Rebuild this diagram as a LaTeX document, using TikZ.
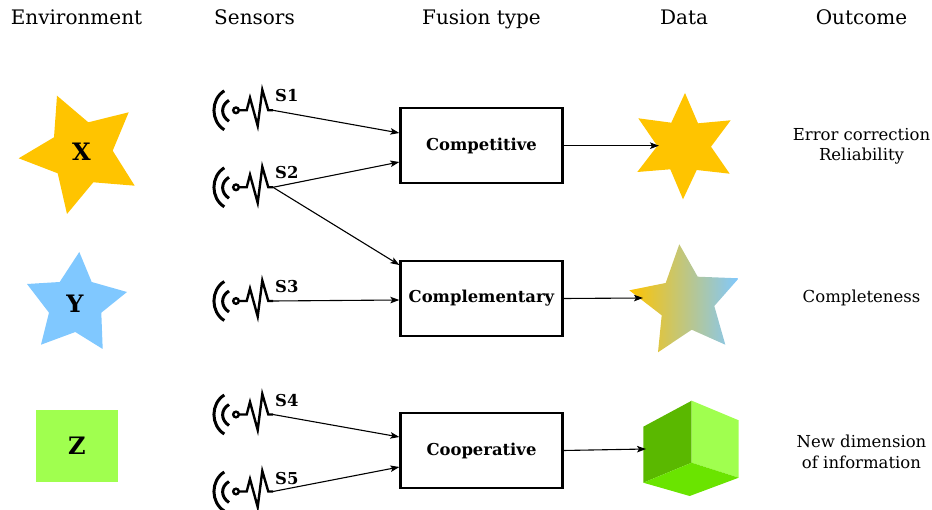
\documentclass[tikz,border=0pt]{standalone}
\usepackage{fontspec}
\setmainfont{DejaVu Serif}
\usetikzlibrary{arrows.meta}
\definecolor{amber}{HTML}{FFC400}
\definecolor{skyb}{HTML}{80C8FF}
\definecolor{limea}{HTML}{A0FF4F}
\definecolor{limeb}{HTML}{5AB800}
\definecolor{limec}{HTML}{6AE400}
\tikzset{
  x=1pt,y=-1pt,
  head/.style={font=\fontsize{20}{24}\selectfont,anchor=base},
  note/.style={font=\fontsize{16.5}{20.5}\selectfont,align=center},
  boxn/.style={draw=black,line width=2.3pt,minimum width=162pt,minimum height=75pt,inner sep=0pt,font=\bfseries\fontsize{16.4}{18}\selectfont},
  shapel/.style={font=\bfseries\fontsize{24}{26}\selectfont,inner sep=0pt},
  slabel/.style={font=\bfseries\fontsize{16.4}{18}\selectfont,inner sep=0pt,anchor=base west},
  conn/.style={draw=black,line width=1.1pt,-{Stealth[length=9pt,width=6.5pt,inset=2pt]}},
  sensorline/.style={draw=black,line width=2.4pt,line join=miter,fill=none},
  pics/sensor/.style={code={
    \draw[sensorline,line width=3pt] (-11.7,-19.5) .. controls (-25.5,-11) and (-25.5,11) .. (-11.7,19.5);
    \draw[sensorline,line width=3pt] (-7,-10) .. controls (-15.5,-5) and (-15.5,5.5) .. (-7,11);
    \draw[sensorline] (0,0) circle (2.8);
    \draw[sensorline] (2.8,0) -- (10.7,0) -- (14,-12.5) -- (21.7,15.5) -- (26.3,-20.5) -- (32.3,0) -- (37,0);
    \coordinate (-out) at (37,0);
  }}
}
\begin{document}
\begin{tikzpicture}
\useasboundingbox (0,0) rectangle (932,510);
% headings
\node[head] (h1) at (76.5,24.6) {Environment};
\node[head] (h2) at (254.5,24.6) {Sensors};
\node[head] (h3) at (481.5,24.6) {Fusion type};
\node[head] (h4) at (684,24.6) {Data};
\node[head] (h5) at (861.5,24.6) {Outcome};
% environment
\fill[amber] (57,95.7)--(88.3,122.3)--(128.7,112.3)--(112.7,150.7)--(134.7,185.7)--(93.3,182.3)--(67,214)--(57.7,173.3)--(18.7,158.3)--(54,137.3)--cycle;
\node[shapel] (x) at (81.5,152) {X};
\fill[skyb] (79.3,252)--(91.7,282)--(127,292)--(101.3,312.7)--(102.7,349)--(75.3,332)--(41,344.7)--(49,312.7)--(27,284)--(59.7,282)--cycle;
\node[shapel] (y) at (75,304) {Y};
\fill[limea] (36,410) rectangle (118,482);
\node[shapel] (z) at (77,446) {Z};
% sensors
\pic (s1) at (236,110.3) {sensor};
\pic (s2) at (236,187.3) {sensor};
\pic (s3) at (236,301) {sensor};
\pic (s4) at (236,414.5) {sensor};
\pic (s5) at (236,491.5) {sensor};
\node[slabel] (l1) at (275,102) {S1};
\node[slabel] (l2) at (275,179) {S2};
\node[slabel] (l3) at (275,293) {S3};
\node[slabel] (l4) at (275,407) {S4};
\node[slabel] (l5) at (275,484) {S5};
% boxes
\node[boxn] (comp) at (481.5,145.7) {Competitive};
\node[boxn] (compl) at (481.5,298.5) {Complementary};
\node[boxn] (coop) at (481.5,450.5) {Cooperative};
% data
\fill[amber] (685,93)--(698,123.3)--(730.7,120.3)--(711,146.7)--(729.7,173.7)--(696.7,170)--(683,199.3)--(670.3,169.3)--(637.3,172)--(657.3,146)--(638.3,118.3)--(671.3,122.7)--cycle;
\shade[left color=amber,right color=skyb] (679.3,244.3)--(697.7,276.7)--(738.7,278.3)--(714.3,306)--(725.3,344.7)--(691.7,329.7)--(658,352.3)--(661.7,315.3)--(629.3,290.3)--(665.7,283)--cycle;
\fill[limeb] (691.7,400.7)--(691.7,462.7)--(643.3,482.7)--(643.3,426.7)--cycle;
\fill[limea] (691.7,400.7)--(738.7,420.3)--(738.7,477.7)--(691.7,462.7)--cycle;
\fill[limec] (691.7,462.7)--(738.7,477.7)--(689.7,496)--(643.3,482.7)--cycle;
\coordinate (d1) at (659,145.7);
\coordinate (d2) at (643,298);
\coordinate (d3) at (646,449);
% connectors
\coordinate (c1) at (comp.west |- 0,133);
\coordinate (c2) at (comp.west |- 0,162);
\coordinate (c3) at (compl.west |- 0,265);
\coordinate (c4) at (compl.west |- 0,300);
\coordinate (c5) at (coop.west |- 0,437);
\coordinate (c6) at (coop.west |- 0,467);
\draw[conn] (s1-out) -- (c1);
\draw[conn] (s2-out) -- (c2);
\draw[conn] (s2-out) -- (c3);
\draw[conn] (s3-out) -- (c4);
\draw[conn] (s4-out) -- (c5);
\draw[conn] (s5-out) -- (c6);
\draw[conn] (comp.east) -- (d1);
\draw[conn] (compl.east) -- (d2);
\draw[conn] (coop.east) -- (d3);
% outcomes
\node[note] (o1) at (861.5,146.3) {Error correction\\Reliability};
\node[note] (o2) at (861.5,298) {Completeness};
\node[note] (o3) at (861.5,452) {New dimension\\of information};
\end{tikzpicture}
\end{document}
